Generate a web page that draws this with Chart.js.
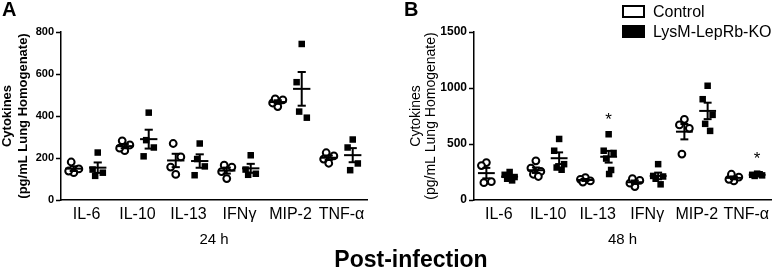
<!DOCTYPE html>
<html>
<head>
<meta charset="utf-8">
<script src="https://cdn.jsdelivr.net/npm/chart.js@4"></script>
<style>
  body { margin: 0; background: #fff; font-family: "Liberation Sans", Arial, sans-serif; }
  #wrap { position: relative; width: 777px; height: 267px; overflow: hidden; }
  canvas { position: absolute; top: 0; }
  .tag { position: absolute; top: -2px; font-size: 20px; font-weight: bold; }
  .key { position: absolute; left: 622px; height: 14px; font-size: 16px; line-height: 14px; white-space: nowrap; }
  .key span { display: inline-block; width: 19px; height: 9px; border: 2px solid #000; margin-right: 8px; vertical-align: top; }
  #xlab { position: absolute; left: 411px; top: 246px; transform: translateX(-50%); font-size: 23px; font-weight: bold; white-space: nowrap; }
</style>
</head>
<body>
<div id="wrap">
  <canvas id="chartA" width="380" height="267" style="left:0"></canvas>
  <canvas id="chartB" width="397" height="267" style="left:380px"></canvas>
  <div class="tag" style="left:2px">A</div>
  <div class="tag" style="left:404px">B</div>
  <div class="key" style="top:5px"><span style="background:#fff"></span>Control</div>
  <div class="key" style="top:25px"><span style="background:#000"></span>LysM-LepRb-KO</div>
  <div id="xlab">Post-infection</div>
</div>
<script>
const cytokines = ['IL-6', 'IL-10', 'IL-13', 'IFNγ', 'MIP-2', 'TNF-α'];

// 24 h, one list of animals per cytokine
const control24 = [[130, 138, 148, 181], [235, 247, 262, 282], [122, 157, 205, 269], [102, 135, 157, 166], [445, 462, 477, 482], [175, 195, 210, 225]];
const ko24 = [[226, 145, 130, 115], [416, 208, 250, 285], [269, 118, 160, 195], [213, 145, 125, 120], [743, 561, 392, 421], [288, 250, 174, 142]];
const sig24 = [false, false, false, false, false, false];

// 48 h
const control48 = [[334, 307, 164, 155], [350, 285, 255, 230, 210], [200, 185, 170, 160], [120, 150, 175, 190], [720, 670, 640, 410], [170, 185, 205, 230]];
const ko48 = [[250, 225, 205, 190, 175], [545, 440, 320, 290, 270], [587, 440, 420, 370, 268, 232], [320, 215, 210, 190, 140], [1020, 900, 760, 680, 617], [235, 225, 220, 215, 230]];
const sig48 = [false, false, true, false, false, true];

const yTicksA = [0, 200, 400, 600, 800];
const yTicksB = [0, 500, 1000, 1500];

// small horizontal spread so points don't sit on top of each other
const spread = [0, -0.1, 0.1, -0.05, 0.05, 0.01];

function toPoints(groups, shift) {
  const pts = [];
  groups.forEach((vals, i) => {
    vals.forEach((v, j) => pts.push({ x: i + 1 + shift + spread[j % spread.length], y: v }));
  });
  return pts;
}

// mean +/- SEM bars and significance stars
const semBars = {
  id: 'semBars',
  afterDatasetsDraw(chart) {
    const { ctx, scales: { x, y } } = chart;
    ctx.save();
    ctx.strokeStyle = '#000';
    ctx.lineWidth = 2;
    const seg = (x0, v0, x1, v1) => {
      ctx.beginPath();
      ctx.moveTo(x.getPixelForValue(x0), y.getPixelForValue(v0));
      ctx.lineTo(x.getPixelForValue(x1), y.getPixelForValue(v1));
      ctx.stroke();
    };
    chart.data.datasets.forEach(ds => {
      ds.groups.forEach((vals, i) => {
        const n = vals.length;
        const mean = vals.reduce((a, b) => a + b, 0) / n;
        const sd = Math.sqrt(vals.reduce((a, b) => a + (b - mean) ** 2, 0) / (n - 1));
        const sem = sd / Math.sqrt(n);
        const cx = i + 1 + ds.shift;
        seg(cx - 0.17, mean, cx + 0.17, mean);
        seg(cx, mean - sem, cx, mean + sem);
        seg(cx - 0.08, mean + sem, cx + 0.08, mean + sem);
        seg(cx - 0.08, mean - sem, cx + 0.08, mean - sem);
        if (ds.sig && ds.sig[i]) {
          ctx.fillStyle = '#000';
          ctx.font = '17px "Liberation Sans", Arial, sans-serif';
          ctx.textAlign = 'center';
          ctx.textBaseline = 'middle';
          ctx.fillText('*', x.getPixelForValue(cx), y.getPixelForValue(Math.max(...vals)) - 14);
        }
      });
    });
    ctx.restore();
  }
};

function makeChart(id, ctrl, ko, sig, yTicks, yWidth, titleFont, titlePad, timeLabel, tickSize) {
  const family = '"Liberation Sans", Arial, sans-serif';
  return new Chart(document.getElementById(id), {
    type: 'scatter',
    data: {
      datasets: [
        {
          label: 'Control',
          data: toPoints(ctrl, -0.25),
          groups: ctrl, shift: -0.25,
          pointStyle: 'circle', pointRadius: 3.4, pointBorderWidth: 2,
          borderColor: '#000', backgroundColor: '#fff'
        },
        {
          label: 'LysM-LepRb-KO',
          data: toPoints(ko, 0.22),
          groups: ko, shift: 0.22, sig: sig,
          pointStyle: 'rect', pointRadius: 4.6, pointBorderWidth: 0,
          borderColor: '#000', backgroundColor: '#000'
        }
      ]
    },
    options: {
      responsive: false,
      animation: false,
      layout: { padding: { top: 32, right: id === 'chartA' ? 13 : 0, left: 0, bottom: 0 } },
      plugins: { legend: { display: false }, tooltip: { enabled: false } },
      scales: {
        x: {
          type: 'linear', min: 0.5, max: 6.5,
          afterBuildTicks: s => { s.ticks = cytokines.map((_, i) => ({ value: i + 1 })); },
          afterFit: s => { s.height = 67; },
          ticks: {
            color: '#000', padding: 5,
            font: { family, size: 16 },
            callback: v => cytokines[v - 1]
          },
          grid: { display: false, drawTicks: false },
          border: { color: '#000', width: 1.5 },
          title: { display: true, text: timeLabel, color: '#000', font: { family, size: 15 }, padding: { top: 0, bottom: 18 } }
        },
        y: {
          min: 0, max: yTicks[yTicks.length - 1],
          afterBuildTicks: s => { s.ticks = yTicks.map(v => ({ value: v })); },
          afterFit: s => { s.width = yWidth; },
          ticks: { color: '#000', padding: 2, font: { family, size: tickSize, weight: 'bold' }, callback: v => String(v) },
          grid: { drawOnChartArea: false, drawTicks: true, tickLength: 5, tickColor: '#000', tickWidth: 1.5 },
          border: { color: '#000', width: 1.5 },
          title: {
            display: true,
            text: ['Cytokines', '(pg/mL Lung Homogenate)'],
            color: '#000',
            font: Object.assign({ family }, titleFont),
            padding: { top: titlePad, bottom: 0 }
          }
        }
      }
    },
    plugins: [semBars]
  });
}

makeChart('chartA', control24, ko24, sig24, yTicksA, 61, { size: 13, weight: 'bold', lineHeight: 1.2 }, 0, '24 h', 11);
makeChart('chartB', control48, ko48, sig48, yTicksB, 94, { size: 14, weight: 'normal', lineHeight: 1.1 }, 28, '48 h', 12);
</script>
</body>
</html>
